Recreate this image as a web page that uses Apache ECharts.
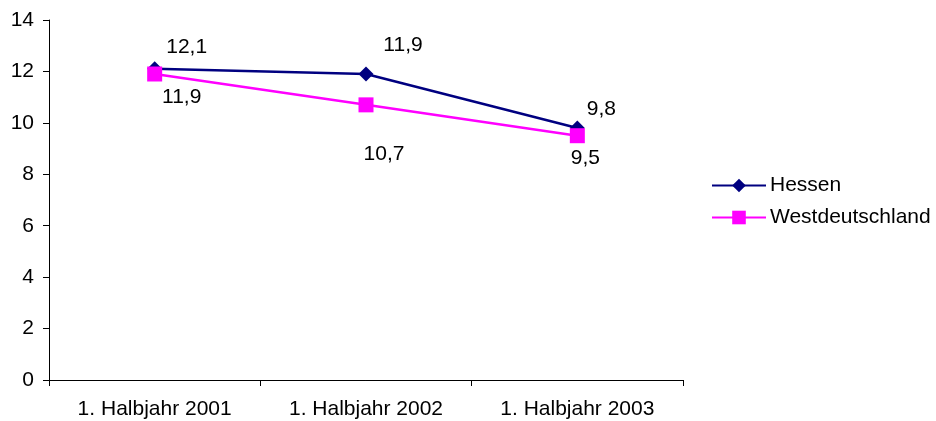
<!DOCTYPE html>
<html>
<head>
<meta charset="utf-8">
<script src="https://cdn.jsdelivr.net/npm/echarts@6/dist/echarts.min.js"></script>
<style>
  html, body { margin: 0; padding: 0; background: #fff; }
  #chart { width: 936px; height: 421px; }
</style>
</head>
<body>
<div id="chart"></div>
<script>
// data
var categories = ['1. Halbjahr 2001', '1. Halbjahr 2002', '1. Halbjahr 2003'];
var hessen = [12.1, 11.9, 9.8];
var westdeutschland = [11.9, 10.7, 9.5];
var yTicks = { min: 0, max: 14, step: 2 };

var myChart = echarts.init(document.getElementById('chart'));
var font = 'Liberation Sans, Arial, sans-serif';

// label offsets around each point (like the original placement)
var hessenOffsets = [[32, -22], [37, -29], [24, -19]];
var westOffsets = [[27, 23], [18, 49], [8, 22]];

function withLabels(values, offsets) {
    return values.map(function (v, i) {
        return { value: v, label: { offset: offsets[i] } };
    });
}

function fmt(p) {
    return String(p.value).replace('.', ',');
}

var option = {
    animation: false,
    textStyle: { fontFamily: font },
    grid: { left: 49, right: 253, top: 20, bottom: 41 },
    legend: {
        orient: 'vertical',
        left: 706,
        top: 170,
        itemWidth: 54,
        itemHeight: 17,
        itemGap: 11,
        textStyle: { fontSize: 21, color: '#000', fontFamily: font, padding: [0, 0, 0, -1] },
        data: ['Hessen', 'Westdeutschland']
    },
    xAxis: {
        type: 'category',
        data: categories,
        boundaryGap: true,
        axisLine: { lineStyle: { color: '#000', width: 1 } },
        axisTick: { show: true, length: 6, lineStyle: { color: '#000' } },
        axisLabel: { color: '#000', fontSize: 21, margin: 19, fontFamily: font },
        splitLine: { show: false }
    },
    yAxis: {
        type: 'value',
        min: yTicks.min,
        max: yTicks.max,
        interval: yTicks.step,
        axisLine: { show: true, lineStyle: { color: '#000', width: 1 } },
        axisTick: { show: true, length: 6, lineStyle: { color: '#000' } },
        axisLabel: { color: '#000', fontSize: 21, margin: 15, fontFamily: font },
        splitLine: { show: false }
    },
    series: [
        {
            name: 'Hessen',
            type: 'line',
            data: withLabels(hessen, hessenOffsets),
            symbol: 'diamond',
            symbolSize: 15,
            itemStyle: { color: '#000080' },
            lineStyle: { color: '#000080', width: 2.5 },
            label: {
                show: true,
                position: 'inside',
                formatter: fmt,
                color: '#000',
                fontSize: 21,
                fontFamily: font
            }
        },
        {
            name: 'Westdeutschland',
            type: 'line',
            data: withLabels(westdeutschland, westOffsets),
            symbol: 'rect',
            symbolSize: 15,
            itemStyle: { color: '#ff00ff' },
            lineStyle: { color: '#ff00ff', width: 2.5 },
            label: {
                show: true,
                position: 'inside',
                formatter: fmt,
                color: '#000',
                fontSize: 21,
                fontFamily: font
            }
        }
    ]
};

myChart.setOption(option);
window.addEventListener('resize', function () {
    myChart.resize();
});
</script>
</body>
</html>
